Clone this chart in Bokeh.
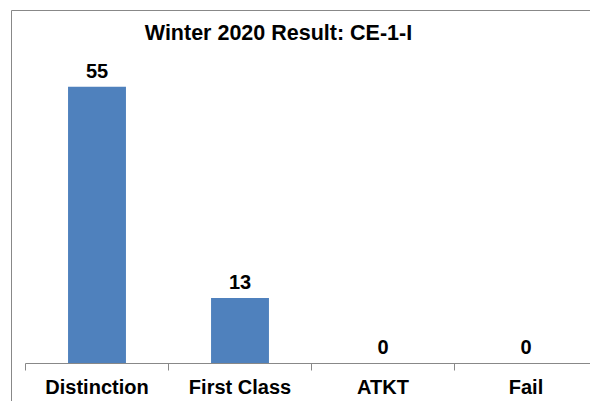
from bokeh.plotting import figure
from bokeh.models import Range1d, LinearAxis, FixedTicker, ColumnDataSource, LabelSet, Label
from bokeh.embed import file_html
from bokeh.resources import INLINE
from bokeh.core.properties import value

# ---- data ----
chart_title = "Winter 2020 Result: CE-1-I"
categories = ["Distinction", "First Class", "ATKT", "Fail"]
counts = [55, 13, 0, 0]

BAR_COLOR = "#4F81BD"
LINE_GRAY = "#888888"
FONT = "Liberation Sans"

xpos = [i + 0.5 for i in range(len(categories))]
bounds = list(range(len(categories) + 1))
src = ColumnDataSource(dict(x=xpos, top=counts, label=[str(c) for c in counts]))

p = figure(width=590, height=401, output_backend="svg", toolbar_location=None,
           x_range=Range1d(-0.0979, 3.951), y_range=Range1d(-7.555, 70.18),
           x_axis_location=None, y_axis_location=None,
           min_border_left=11, min_border_right=0, min_border_top=10, min_border_bottom=0)
p.outline_line_color = None
p.xgrid.visible = False
p.ygrid.visible = False
p.background_fill_color = "white"
p.border_fill_color = "white"

p.vbar(x="x", top="top", bottom=0, width=0.405, source=src,
       fill_color=BAR_COLOR, line_color=None)


def frame_edge_axis():
    a = LinearAxis(ticker=FixedTicker(ticks=[]))
    a.axis_line_color = LINE_GRAY
    a.major_tick_in = 0
    a.major_tick_out = 0
    a.minor_tick_in = 0
    a.minor_tick_out = 0
    a.major_label_standoff = 0
    a.major_label_text_alpha = 0
    return a


p.add_layout(frame_edge_axis(), "left")
p.add_layout(frame_edge_axis(), "above")

ax = LinearAxis(ticker=FixedTicker(ticks=xpos, minor_ticks=bounds), fixed_location=0,
                bounds=(bounds[0], bounds[-1]))
ax.major_label_overrides = {x: c for x, c in zip(xpos, categories)}
ax.axis_line_color = LINE_GRAY
ax.axis_line_width = 1
ax.major_tick_in = 0
ax.major_tick_out = 0
ax.minor_tick_in = 0
ax.minor_tick_out = 7
ax.minor_tick_line_color = LINE_GRAY
ax.major_label_standoff = 6
ax.major_label_text_font = FONT
ax.major_label_text_font_style = "bold"
ax.major_label_text_font_size = "20px"
ax.major_label_text_color = "black"
p.add_layout(ax, "below")

labels = LabelSet(x="x", y="top", text="label", source=src,
                  text_align="center", text_baseline="alphabetic", y_offset=9,
                  text_font=value(FONT), text_font_style="bold",
                  text_font_size="20px", text_color="black")
p.add_layout(labels)

title_label = Label(x=267, y=369, x_units="screen", y_units="screen", text=chart_title,
                    text_align="center", text_baseline="alphabetic",
                    text_font=FONT, text_font_style="bold", text_font_size="21.5px",
                    text_color="black")
p.add_layout(title_label)

open("out.html", "w").write(file_html(p, INLINE))
